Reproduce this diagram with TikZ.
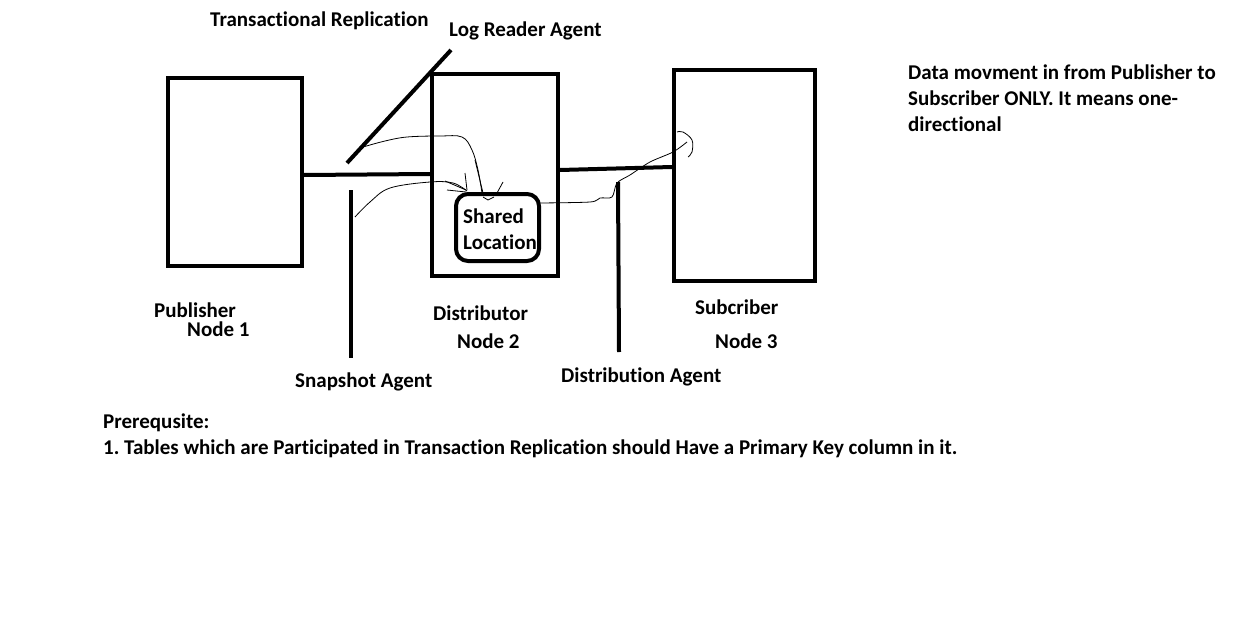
\documentclass[tikz,border=0pt]{standalone}
\usepackage{fontspec}
\setmainfont{Carlito}[Ligatures=CommonOff]
\frenchspacing
\begin{document}
\begin{tikzpicture}[x=1pt,y=-1pt,
  box/.style={draw,line width=4pt,minimum width=#1,inner sep=0pt},
  thickline/.style={line width=4pt},
  scribble/.style={line width=0.8pt},
  lbl/.style={anchor=west,inner sep=0pt,font=\fontsize{21}{25}\selectfont\bfseries},
  note/.style={anchor=west,inner sep=0pt,align=left,font=\fontsize{21}{26}\selectfont\bfseries}]
\useasboundingbox (0,0) rectangle (1245,618);
% boxes
\node[box=134pt,minimum height=188pt] (pub) at (235,172) {};
\node[box=126pt,minimum height=202pt] (dist) at (495,175) {};
\node[box=141pt,minimum height=211pt] (sub) at (744.5,175.5) {};
\node[draw,line width=4pt,rounded corners=12pt,minimum width=83pt,minimum height=67pt,inner sep=0pt] (shared) at (497.5,227.5) {};
% connectors
\draw[thickline] (pub.east |- 0,175) -- (dist.west |- 0,174);
\draw[thickline] (dist.east |- 0,170) -- (sub.west |- 0,167);
\coordinate (lrA) at (347,163);
\coordinate (lrB) at (451,50);
\draw[thickline] (lrA) -- (lrB);
\coordinate (snA) at (351,190);
\coordinate (snB) at (351,358);
\draw[thickline] (snA) -- (snB);
\coordinate (daA) at (618,182);
\coordinate (daB) at (619,352);
\draw[thickline] (daA) -- (daB);
% thin hand-drawn curves
\draw[scribble] plot[smooth,tension=0.6] coordinates {(363,147) (385,141) (407,137) (440,136) (462,137) (472,150) (478,170) (482,193)};
\draw[scribble] plot[smooth,tension=0.6] coordinates {(355,217) (370,202) (390,188) (430,182) (453,183) (467,191)};
\draw[scribble] (445,181) -- (466,190);
\draw[scribble] (447,190) -- (466,192);
\draw[scribble] (465,173) -- (467,190);
\draw[scribble] (475,160) -- (483,193);
\draw[scribble] (503,182) -- (497,193);
\draw[scribble] (483,197) -- (488,200) -- (494,197);
\draw[scribble] plot[smooth,tension=0.5] coordinates {(538,203) (590,202) (600,198) (612,197) (617,183) (630,175) (650,162) (673,152) (687,142)};
\draw[scribble] plot[smooth,tension=0.6] coordinates {(677,132) (683,132) (692,140) (692,152) (688,157)};
% labels
\node[lbl] (t1) at (210,21) {Transactional Replication};
\node[lbl] (t2) at (449,31) {Log Reader Agent};
\node[note] (t3) at (908,98) {Data movment in from Publisher to\\Subscriber ONLY. It means one-\\directional};
\node[lbl] (p1) at (154,310) {Publisher};
\node[lbl] (p2) at (187,329) {Node 1};
\node[lbl] (d1) at (433,313) {Distributor};
\node[lbl] (d2) at (457,341) {Node 2};
\node[lbl] (s1) at (695,307) {Subcriber};
\node[lbl] (s2) at (715,341) {Node 3};
\node[lbl] (sa) at (295,382) {Snapshot Agent};
\node[lbl] (da) at (561,377) {Distribution Agent};
\node[lbl] (sl1) at (463,216) {Shared};
\node[lbl] (sl2) at (463,242) {Location};
\node[lbl] (pr) at (103,423) {Prerequsite:};
\node[lbl] (pr1) at (103,449) {1. Tables which are Participated in Transaction Replication should Have a Primary Key column in it.};
\end{tikzpicture}
\end{document}
